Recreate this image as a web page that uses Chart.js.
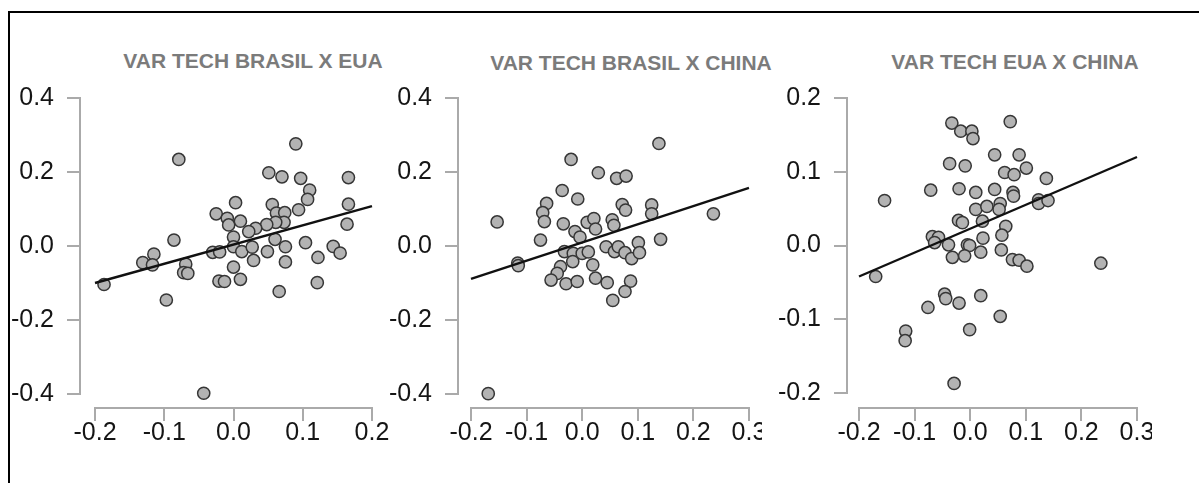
<!DOCTYPE html>
<html>
<head>
<meta charset="utf-8">
<script src="https://cdn.jsdelivr.net/npm/chart.js@4.4.0/dist/chart.umd.min.js"></script>
<style>
  body { margin: 0; width: 1199px; height: 483px; background: #fff; position: relative; overflow: hidden; font-family: "Liberation Sans", Arial, sans-serif; }
  .frame { position: absolute; left: 8px; top: 11px; right: -10px; bottom: -10px; border-left: 2px solid #000; border-top: 2px solid #000; }
  .panel { position: absolute; top: 0; height: 483px; overflow: hidden; }
  .panel canvas { position: absolute; left: 0; top: 0; }
  .title { position: absolute; width: 400px; text-align: center; font-weight: bold; font-size: 21px; line-height: 21px; color: #7b7b7b; white-space: nowrap; }
</style>
</head>
<body>
<div class="frame"></div>

<div class="title" style="left:53px; top:50px;">VAR TECH BRASIL X EUA</div>
<div class="title" style="left:431px; top:52px;">VAR TECH BRASIL X CHINA</div>
<div class="title" style="left:815px; top:51px;">VAR TECH EUA X CHINA</div>

<div class="panel" style="left:0px; width:398px;"><canvas id="brEua" width="398" height="483"></canvas></div>
<div class="panel" style="left:380px; width:382px;"><canvas id="brChina" width="420" height="483"></canvas></div>
<div class="panel" style="left:770px; width:382px;"><canvas id="euaChina" width="430" height="483"></canvas></div>

<script>
//data: Brasil x EUA
const brEuaX = [-0.187, -0.079, 0.090, 0.051, 0.070, 0.097, 0.166, 0.110, 0.107, 0.003,
    0.056, 0.094, 0.166, -0.025, -0.009, -0.007, 0.010, 0.062, 0.074, 0.073,
    0.061, 0.048, 0.032, 0.022, 0.164, 0.000, -0.086, 0.060, 0.104, -0.115,
    -0.131, -0.117, -0.030, -0.020, 0.000, 0.012, 0.027, 0.049, 0.075, 0.144,
    0.154, 0.122, 0.075, 0.029, -0.069, -0.072, -0.066, 0.000, 0.010, -0.021,
    -0.013, 0.121, 0.066, -0.097, -0.043];
const brEuaY = [-0.104, 0.234, 0.276, 0.198, 0.187, 0.183, 0.185, 0.151, 0.126, 0.117,
    0.112, 0.098, 0.113, 0.087, 0.075, 0.057, 0.067, 0.089, 0.090, 0.064,
    0.064, 0.058, 0.048, 0.039, 0.059, 0.024, 0.016, 0.018, 0.009, -0.022,
    -0.045, -0.051, -0.017, -0.016, -0.002, -0.015, -0.003, -0.015, -0.002, -0.001,
    -0.019, -0.031, -0.043, -0.039, -0.049, -0.072, -0.074, -0.057, -0.090, -0.095,
    -0.096, -0.099, -0.123, -0.146, -0.398];
const brEuaLineX = [-0.2, 0.2];
const brEuaLineY = [-0.100, 0.108];

//data: Brasil x China
const brChinaX = [-0.169, -0.153, -0.116, -0.115, -0.020, 0.029, 0.062, 0.079, 0.138, -0.036,
    -0.008, -0.064, -0.071, -0.068, -0.034, 0.072, 0.078, 0.125, 0.125, 0.236,
    0.009, 0.021, 0.024, 0.054, 0.057, -0.013, -0.004, -0.075, 0.141, 0.101,
    -0.032, -0.016, -0.017, 0.000, 0.011, 0.043, 0.058, 0.065, 0.077, 0.089,
    0.103, 0.019, -0.039, -0.045, -0.056, -0.029, -0.009, 0.024, 0.045, 0.087,
    0.077, 0.055];
const brChinaY = [-0.399, 0.065, -0.046, -0.053, 0.234, 0.198, 0.183, 0.189, 0.277, 0.150,
    0.127, 0.115, 0.090, 0.066, 0.060, 0.112, 0.097, 0.111, 0.087, 0.087,
    0.064, 0.074, 0.046, 0.071, 0.056, 0.039, 0.024, 0.016, 0.018, 0.009,
    -0.015, -0.020, -0.042, -0.020, -0.016, -0.002, -0.015, -0.002, -0.018, -0.034,
    -0.018, -0.051, -0.056, -0.074, -0.092, -0.102, -0.096, -0.087, -0.099, -0.095,
    -0.123, -0.147];
const brChinaLineX = [-0.2, 0.3];
const brChinaLineY = [-0.089, 0.157];

//data: EUA x China
const euaChinaX = [-0.170, -0.154, -0.071, -0.068, -0.057, -0.064, -0.039, -0.033, -0.017, 0.003,
    0.005, 0.072, -0.037, -0.009, 0.044, 0.088, 0.062, 0.079, 0.101, 0.137,
    -0.020, 0.010, 0.044, 0.077, 0.078, 0.010, 0.030, 0.054, 0.052, 0.123,
    0.123, 0.140, -0.021, -0.014, 0.022, 0.064, 0.057, 0.023, -0.005, -0.001,
    -0.032, -0.010, 0.019, 0.056, 0.076, 0.088, 0.102, 0.235, -0.046, -0.044,
    -0.076, -0.020, 0.019, 0.054, -0.116, -0.117, -0.001, -0.029];
const euaChinaY = [-0.042, 0.061, 0.075, 0.012, 0.011, 0.004, 0.001, 0.166, 0.155, 0.155,
    0.145, 0.168, 0.111, 0.108, 0.123, 0.123, 0.099, 0.096, 0.105, 0.091,
    0.077, 0.072, 0.076, 0.072, 0.067, 0.049, 0.053, 0.057, 0.049, 0.062,
    0.057, 0.061, 0.034, 0.031, 0.033, 0.026, 0.014, 0.010, 0.001, 0.000,
    -0.016, -0.014, -0.009, -0.006, -0.019, -0.020, -0.028, -0.024, -0.066, -0.072,
    -0.084, -0.078, -0.068, -0.096, -0.116, -0.129, -0.114, -0.187];
const euaChinaLineX = [-0.2, 0.3];
const euaChinaLineY = [-0.042, 0.120];

//tick labels
const xTicksA = [-0.2, -0.1, 0.0, 0.1, 0.2];
const xTicksB = [-0.2, -0.1, 0.0, 0.1, 0.2, 0.3];
const yTicksA = [-0.4, -0.2, 0.0, 0.2, 0.4];
const yTicksB = [-0.2, -0.1, 0.0, 0.1, 0.2];

const FONT = '"Liberation Sans", Arial, sans-serif';

//axis lines only from first to last tick
const rAxes = {
    id: 'rAxes',
    beforeDatasetsDraw(chart) {
        const { ctx, chartArea } = chart;
        const x = chart.scales.x;
        const y = chart.scales.y;
        const xt = x.ticks;
        const yt = y.ticks;
        ctx.save();
        ctx.strokeStyle = '#aaaaaa';
        ctx.lineWidth = 2;
        ctx.beginPath();
        ctx.moveTo(chartArea.left, y.getPixelForValue(yt[0].value) + 1);
        ctx.lineTo(chartArea.left, y.getPixelForValue(yt[yt.length - 1].value) - 1);
        ctx.moveTo(x.getPixelForValue(xt[0].value) - 1, chartArea.bottom);
        ctx.lineTo(x.getPixelForValue(xt[xt.length - 1].value) + 1, chartArea.bottom);
        ctx.stroke();
        ctx.restore();
    }
};

function makePanel(id, xs, ys, lineXs, lineYs, xTicks, yTicks, box) {
    const points = xs.map((x, i) => ({ x: x, y: ys[i] }));
    const line = lineXs.map((x, i) => ({ x: x, y: lineYs[i] }));

    const gridOpts = {
        drawOnChartArea: false,
        drawTicks: true,
        tickLength: 13,
        color: '#aaaaaa',
        lineWidth: 2
    };

    new Chart(document.getElementById(id), {
        type: 'scatter',
        data: {
            datasets: [{
                data: points,
                pointRadius: 6.1,
                borderWidth: 1.5,
                pointBorderWidth: 1.5,
                backgroundColor: '#b3b3b3',
                borderColor: '#363636',
                order: 2
            },
            {
                type: 'line',
                data: line,
                borderColor: '#111111',
                borderWidth: 2.4,
                pointRadius: 0,
                order: 1
            }]
        },
        options: {
            responsive: false,
            animation: false,
            layout: {
                autoPadding: false,
                padding: { left: 0, top: 84, right: box.padRight, bottom: 0 }
            },
            plugins: {
                legend: { display: false },
                tooltip: { enabled: false }
            },
            scales: {
                x: {
                    type: 'linear',
                    min: box.xMin,
                    max: box.xMax,
                    afterBuildTicks: (s) => { s.ticks = xTicks.map(v => ({ value: v })); },
                    afterFit: (s) => { s.height = 75; },
                    grid: gridOpts,
                    border: { display: false },
                    ticks: {
                        autoSkip: false,
                        maxRotation: 0,
                        minRotation: 0,
                        padding: 0,
                        color: '#151515',
                        font: { family: FONT, size: 25, lineHeight: 1 },
                        callback: (v) => Number(v).toFixed(1)
                    }
                },
                y: {
                    type: 'linear',
                    min: box.yMin,
                    max: box.yMax,
                    afterBuildTicks: (s) => { s.ticks = yTicks.map(v => ({ value: v })); },
                    afterFit: (s) => { s.width = box.yWidth; },
                    grid: gridOpts,
                    border: { display: false },
                    ticks: {
                        autoSkip: false,
                        padding: 13,
                        color: '#151515',
                        font: { family: FONT, size: 25, lineHeight: 1 },
                        callback: (v) => Number(v).toFixed(1)
                    }
                }
            }
        },
        plugins: [rAxes]
    });
}

makePanel('brEua', brEuaX, brEuaY, brEuaLineX, brEuaLineY, xTicksA, yTicksA,
    { xMin: -0.2217, xMax: 0.2217, yMin: -0.4378, yMax: 0.4378, yWidth: 80, padRight: 11 });
makePanel('brChina', brChinaX, brChinaY, brChinaLineX, brChinaLineY, xTicksB, yTicksA,
    { xMin: -0.2234, xMax: 0.3396, yMin: -0.4378, yMax: 0.4378, yWidth: 78, padRight: 29 });
makePanel('euaChina', euaChinaX, euaChinaY, euaChinaLineX, euaChinaLineY, xTicksB, yTicksB,
    { xMin: -0.2216, xMax: 0.3414, yMin: -0.2203, yMax: 0.2190, yWidth: 77, padRight: 40 });
</script>
</body>
</html>
